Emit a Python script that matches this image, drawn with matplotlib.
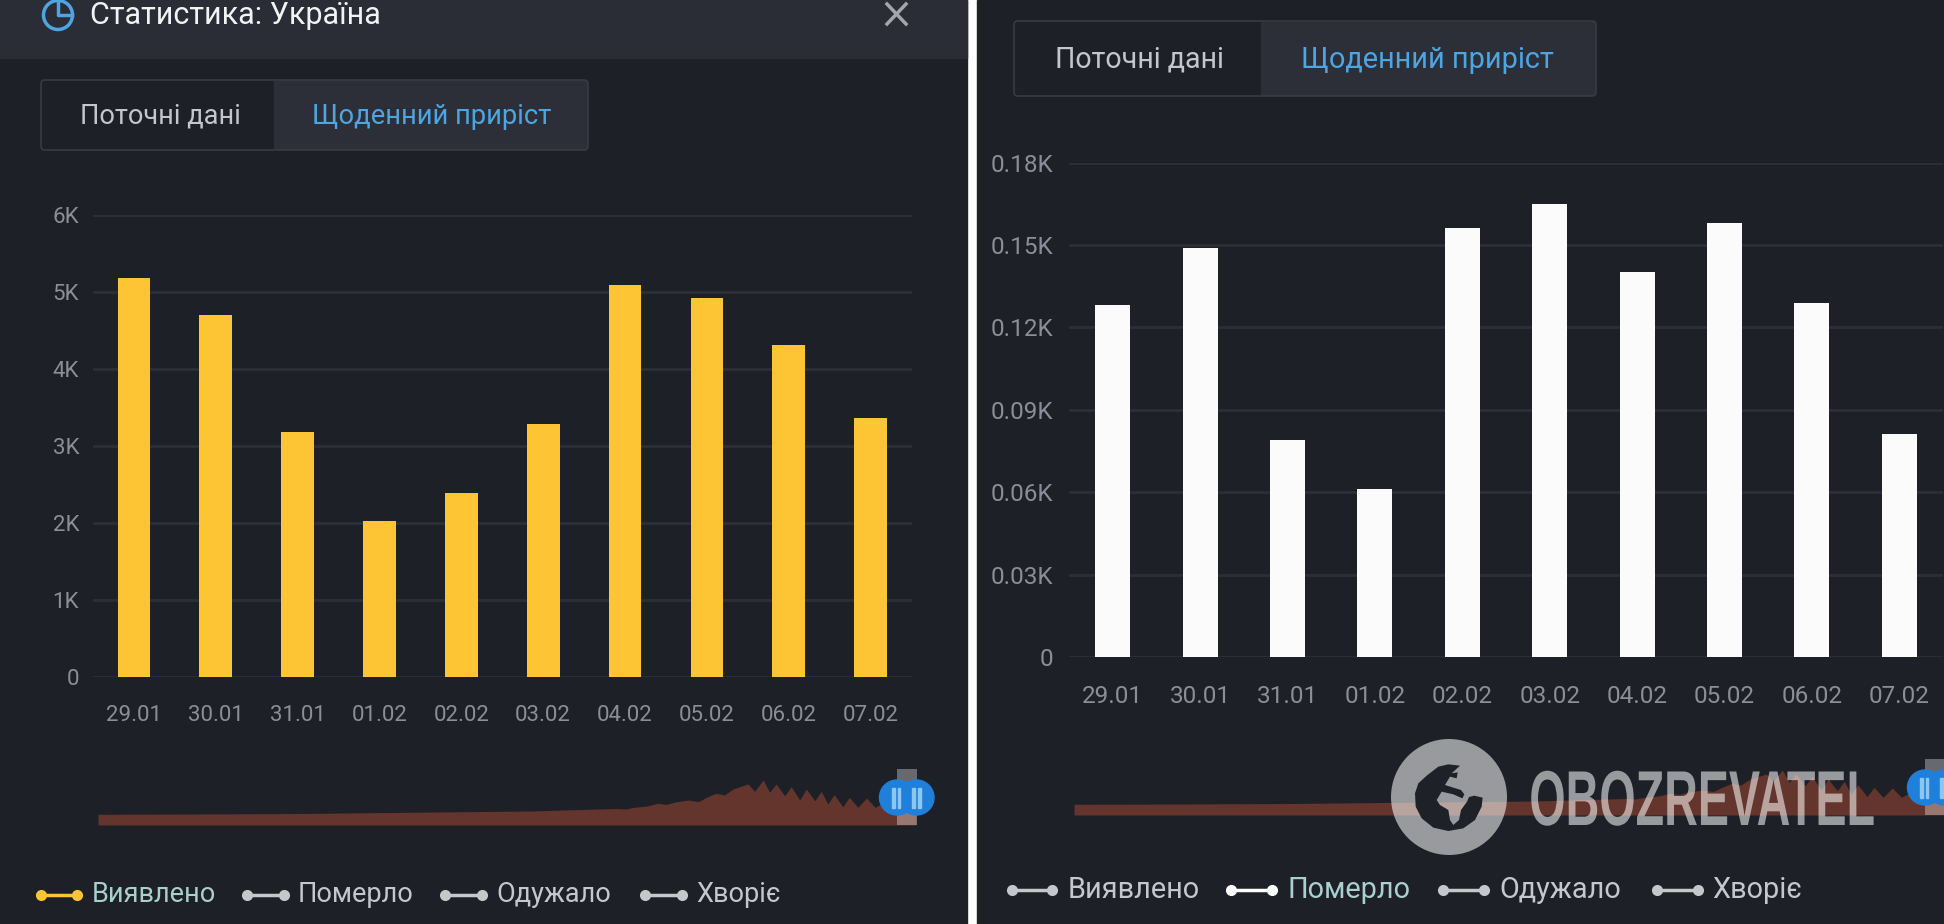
import matplotlib
matplotlib.use('Agg')
import matplotlib.pyplot as plt
import matplotlib.patheffects as pe
from matplotlib.patches import Rectangle, FancyBboxPatch, Circle, Polygon
from matplotlib.transforms import Affine2D

plt.rcParams['font.family'] = ['Roboto', 'DejaVu Sans']

W, H = 1944, 924

days = ['29.01', '30.01', '31.01', '01.02', '02.02', '03.02', '04.02', '05.02', '06.02', '07.02']
detected = [5.18, 4.69, 3.18, 2.03, 2.39, 3.28, 5.08, 4.92, 4.31, 3.36]
died = [0.128, 0.149, 0.079, 0.061, 0.156, 0.165, 0.140, 0.158, 0.129, 0.081]
detected_ticks = [0, 1, 2, 3, 4, 5, 6]
detected_labels = ['0', '1K', '2K', '3K', '4K', '5K', '6K']
died_ticks = [0, 0.03, 0.06, 0.09, 0.12, 0.15, 0.18]
died_labels = ['0', '0.03K', '0.06K', '0.09K', '0.12K', '0.15K', '0.18K']
legend_names = ['Виявлено', 'Померло', 'Одужало', 'Хворіє']

# весь период в нижнем мини-графике
overview_days = [0, 47, 94, 157, 201, 233, 241, 245, 249, 255, 260, 264, 268, 274, 279, 283, 287,
                 291, 295, 302, 305, 309, 312, 315, 319, 322, 326, 329, 333, 336, 339, 342,
                 346, 349, 353, 357, 361, 365, 372, 380]
overview_vals = [10.7, 11, 11.5, 13, 14, 16, 16.5, 16, 17.7, 19, 21.7, 20.5, 23, 25, 23.5, 28, 31.7,
                 30, 36, 41, 33.7, 45, 32.7, 41, 29.3, 38.3, 25, 36, 24.3, 33.7, 21, 30.3,
                 18.3, 27.7, 17.7, 27, 17.7, 22.7, 21, 20]

BG = '#1e2027'
HEADER = '#2a2d35'
TAB = '#2c2f37'
BORDER = '#3a3d46'
GRID = '#2c2f37'
TICK = '#8b8e98'
BLUE = '#4ea5e2'
BROWN = '#63352c'
LEGEND_ACTIVE = '#a9cfd0'
LEGEND_TEXT = '#c6c7ca'


class SqueezeX(pe.AbstractPathEffect):
    # сжимаем текст по горизонтали, у логотипа узкий шрифт
    def __init__(self, factor, x0):
        super().__init__()
        self.factor = factor
        self.x0 = x0

    def draw_path(self, renderer, gc, tpath, affine, rgbFace=None):
        squeeze = affine + Affine2D().translate(-self.x0, 0).scale(self.factor, 1).translate(self.x0, 0)
        renderer.draw_path(gc, tpath, squeeze, rgbFace)


def px_axes(left, top, right, bottom, zorder=1):
    ax = fig.add_axes([left / W, 1 - bottom / H, (right - left) / W, (bottom - top) / H], zorder=zorder)
    ax.patch.set_alpha(0)
    return ax


def bar_panel(box, values, ticks, labels, color, size, pad_x, pad_y):
    ax = px_axes(*box, zorder=2)
    ax.bar(range(len(days)), values, width=0.4, color=color, zorder=3)
    ax.set_xlim(-0.5, len(days) - 0.5)
    ax.set_ylim(ticks[0], ticks[-1])
    ax.set_yticks(ticks, labels)
    ax.set_xticks(range(len(days)), days)
    ax.grid(axis='y', color=GRID, linewidth=2, zorder=0)
    ax.tick_params(length=0, labelcolor=TICK, labelsize=size)
    ax.tick_params(axis='x', pad=pad_x)
    ax.tick_params(axis='y', pad=pad_y)
    for spine in ax.spines.values():
        spine.set_visible(False)
    return ax


def overview(left, right, bottom):
    ax = px_axes(left, bottom - 60, right, bottom, zorder=2)
    ax.fill_between(overview_days, overview_vals, color=BROWN, linewidth=0)
    ax.set_xlim(overview_days[0], overview_days[-1])
    ax.set_ylim(0, 60)
    ax.axis('off')


def handle(x, top, bottom):
    bg_over.add_patch(Rectangle((x, top), 19.5, bottom - top, fc=(1, 1, 1, 0.33), ec='none', zorder=4))
    cy = bottom - 27.5
    bg_over.add_patch(Circle((x + 0, cy), 17.5, color='#1f80dc', zorder=5))
    bg_over.add_patch(Circle((x + 19.5, cy), 17.5, color='#1f80dc', zorder=5))
    for dx, w in [(-5, 3), (1, 2), (15, 2.5), (21, 3)]:
        bg_over.add_patch(Rectangle((x + dx, cy - 10), w, 20, color='#8cc6f2', zorder=6))


def tabs(x0, x1, split, top, bottom, size, left_x, right_x):
    bg.add_patch(Rectangle((split, top + 1), x1 - split - 2, bottom - top - 2, color=TAB, zorder=1))
    bg.add_patch(FancyBboxPatch((x0, top), x1 - x0, bottom - top, boxstyle='round,pad=0,rounding_size=4',
                                fc='none', ec=BORDER, lw=1.1, zorder=2))
    y = (top + bottom) / 2 + 1.5
    bg.text(left_x, y, 'Поточні дані', color='#c4c6cb', fontsize=size, ha='center', va='center', zorder=3)
    bg.text(right_x, y, 'Щоденний приріст', color=BLUE, fontsize=size * 1.01, ha='center', va='center', zorder=3)


def legend(y, line_xs, text_xs, active, active_line, size):
    for i, name in enumerate(legend_names):
        x0, x1 = line_xs[i]
        line_color = active_line if i == active else '#c6c7ca'
        bg.plot([x0 + 4, x1 - 4], [y, y], color=line_color, lw=2.5, zorder=3,
                marker='o', markersize=8, markeredgewidth=0, solid_capstyle='butt')
        bg.text(text_xs[i], y, name, color=LEGEND_ACTIVE if i == active else LEGEND_TEXT,
                fontsize=size, ha='left', va='center', zorder=3)


fig = plt.figure(figsize=(W / 100, H / 100), dpi=100, facecolor='white')

bg = px_axes(0, 0, W, H, zorder=0)
bg.set_xlim(0, W)
bg.set_ylim(H, 0)
bg.axis('off')

# поверх мини-графика: ползунок и логотип
bg_over = px_axes(0, 0, W, H, zorder=5)
bg_over.set_xlim(0, W)
bg_over.set_ylim(H, 0)
bg_over.axis('off')

bg.add_patch(Rectangle((0, 0), 967, H, color=BG, zorder=0))
bg.add_patch(Rectangle((0, 0), 967, 58, color=HEADER, zorder=0))
bg.add_patch(Rectangle((977, 0), W - 977, H, color=BG, zorder=0))

# шапка левой панели
bg.add_patch(Circle((58, 15), 14.5, fc='none', ec=BLUE, lw=2.5, zorder=2))
bg.plot([58, 58, 72], [1, 15, 15], color=BLUE, lw=2.5, zorder=2)
bg.text(90, 15, 'Статистика: Україна', color='#f2f3f5', fontsize=22, ha='left', va='center', zorder=3)
bg.plot([887, 906], [4, 24], color='#a4a6ad', lw=2.5, zorder=2)
bg.plot([887, 906], [24, 4], color='#a4a6ad', lw=2.5, zorder=2)

tabs(41, 588, 274, 80, 150, 19.5, 160, 432)
tabs(1014, 1596, 1261, 21, 96, 20.6, 1139, 1427)

bar_panel((93, 214.5, 911.5, 677), detected, detected_ticks, detected_labels, '#fdc533', 16, 20, 10)
bar_panel((1069, 162.5, 1943, 657), died, died_ticks, died_labels, '#fbfbfb', 17.5, 20, 11.5)

overview(98, 916, 825)
overview(1074, 1945, 815)
handle(897, 769, 825)
handle(1925, 759, 815)

legend(895, [(37, 81), (243, 288), (441, 486), (641, 686)], [92, 298, 496, 696], 0, '#fdc533', 19.5)
legend(890, [(1008, 1056), (1227, 1276), (1439, 1488), (1653, 1702)], [1068, 1287, 1499, 1712], 1, '#ffffff', 20.8)

# логотип OBOZREVATEL
wm_color = (1, 1, 1, 0.55)
bg_over.add_patch(Circle((1449, 797), 58, color=wm_color, lw=0, zorder=7))
globe_z = [(225, 92), (190, 88), (160, 95), (125, 122), (100, 145), (90, 175), (92, 215), (110, 250),
           (145, 278), (190, 288), (235, 280), (270, 255), (290, 215), (293, 188), (268, 182), (252, 186),
           (246, 200), (228, 225), (222, 255), (205, 270), (195, 255), (190, 225), (165, 210), (155, 195),
           (170, 170), (205, 178), (232, 190), (238, 178), (228, 165), (205, 158), (180, 150), (195, 125),
           (215, 130), (218, 112), (200, 115)]
globe = [(1385 + zx / 3, 735 + zy / 3) for zx, zy in globe_z]
bg_over.add_patch(Polygon(globe, closed=True, fc='#1f2128', ec='none', zorder=8))
wm = bg_over.text(1875, 825, 'OBOZREVATEL', color=wm_color, fontsize=56, fontweight='bold',
                  family=['Liberation Sans Narrow', 'Liberation Sans'], ha='right', va='baseline', zorder=7)
wm.set_path_effects([SqueezeX(0.60, 1875)])

fig.savefig('out.png', dpi=100, facecolor='white')
